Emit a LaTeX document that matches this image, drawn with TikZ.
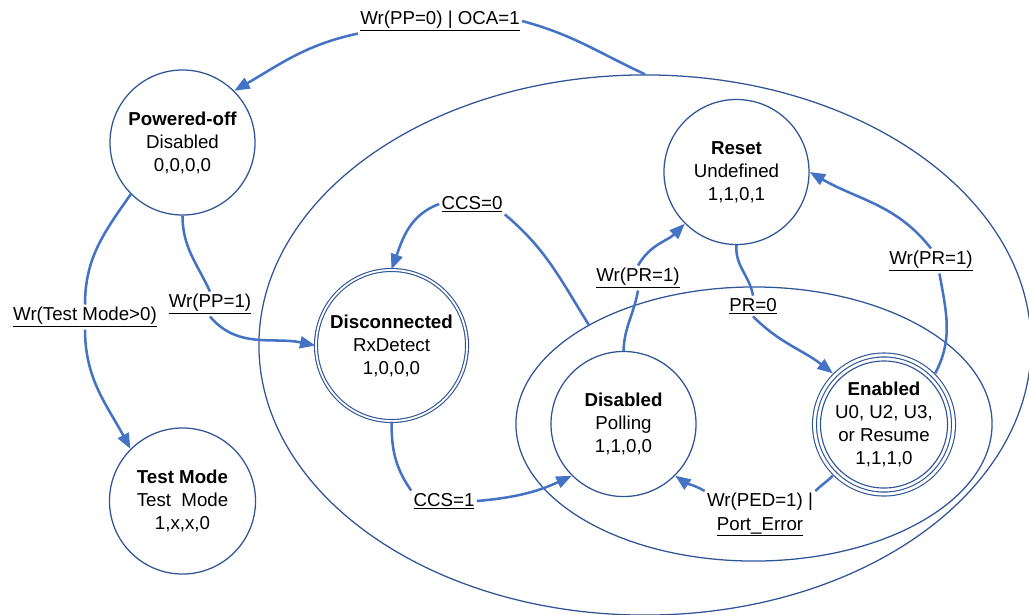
\documentclass[tikz,border=0pt]{standalone}
\usepackage{fontspec}
\setmainfont{Liberation Sans}
\usepackage{tikz}
\usetikzlibrary{arrows.meta,shapes.geometric,positioning}
\usepackage{xcolor}
\definecolor{BlueL}{RGB}{68, 114, 196}
\definecolor{BlueD}{RGB}{47,  85, 151}
\newcommand{\trig}[1]{\underline{#1}}

\begin{document}
\begin{tikzpicture}[x=0.025cm,y=-0.025cm,
    font=\fontsize{13.3pt}{16.4pt}\selectfont,
    state/.style={circle,draw=BlueD,line width=0.9pt,align=center,inner sep=0pt,minimum size=3.625cm},
    region/.style={ellipse,draw=BlueD,line width=0.9pt,inner sep=0pt},
    trans/.style={inner sep=1.5pt,align=center},
    edge/.style={BlueL,line width=1.8pt},
    tip/.style={edge,-{Triangle[length=11pt,width=8.5pt]}}]
  \useasboundingbox (0,0) rectangle (1029,614);
  \node[region,minimum width=19.3cm,minimum height=13.5cm] (outer) at (645,345) {};
  \node[region,minimum width=11.9cm,minimum height=6.85cm] (inner) at (754,424) {};
  \node[state] (poweroff) at (182.5,142.5) {\textbf{Powered-off}\\Disabled\\0,0,0,0};
  \node[state,minimum size=3.65cm] (testmode) at (182.5,501) {\textbf{Test Mode}\\Test\ \ Mode\\1,x,x,0};
  \node[state,double,double distance=1.3pt,line width=0.8pt,minimum size=3.775cm] (disconn) at (391.5,345.5) {\textbf{Disconnected}\\RxDetect\\1,0,0,0};
  \node[state] (reset) at (736.5,172) {\textbf{Reset}\\Undefined\\1,1,0,1};
  \node[state] (polling) at (623.5,424) {\textbf{Disabled}\\Polling\\1,1,0,0};
  \node[state,double,double distance=2pt,line width=0.8pt,outer sep=2pt,minimum size=3.475cm] (enabled) at (884,424.5) {\textbf{Enabled}\\U0, U2, U3,\\or Resume\\1,1,1,0};
  \draw[BlueD,line width=0.8pt] (enabled.center) circle (1.5875cm);
  % transition labels
  \node[trans] (l1) at (440,21) {\trig{Wr(PP=0) | OCA=1}};
  \node[trans] (l2) at (85,317) {\trig{Wr(Test Mode>0)}};
  \node[trans] (l3) at (210,304) {\trig{Wr(PP=1)}};
  \node[trans] (l4) at (444,501) {\trig{CCS=1}};
  \node[trans] (l5) at (472,204) {\trig{CCS=0}};
  \node[trans] (l6) at (638,278) {\trig{Wr(PR=1)}};
  \node[trans] (l7) at (753,306) {\trig{PR=0}};
  \node[trans] (l8) at (931,261) {\trig{Wr(PR=1)}};
  \node[trans] (l9) at (760,515) {Wr(PED=1) |\\\trig{Port\_Error}};
  % transitions
  \draw[edge] (outer.north) to[out=155,in=-15] (l1.east);
  \draw[tip] (l1.south west) to[out=192,in=30] (poweroff.45);
  \draw[edge] (poweroff.225) to[out=235,in=90] (l2.north);
  \draw[tip] (l2.south) to[out=-90,in=118] (testmode.135);
  \draw[edge] (poweroff.south) to[out=-90,in=115] (l3.north);
  \draw[tip] (l3.south) to[out=-50,in=168] (disconn.west);
  \draw[edge] (disconn.south) to[out=-90,in=125] (l4.north west);
  \draw[tip] (l4.east) to[out=5,in=205] (polling.225);
  \draw[edge] (inner.149) to[out=122,in=-40] (l5.south east);
  \draw[tip] (l5.west) to[out=200,in=70] (disconn.north);
  \draw[edge] (polling.north) to[out=88,in=-100] (l6.south);
  \draw[tip] (l6.north) to[out=60,in=225] (reset.225);
  \draw[edge] (reset.south) to[out=-95,in=100] (l7.north);
  \draw[tip] (l7.south) to[out=-45,in=142] (enabled.135);
  \draw[edge] (enabled.45) to[out=62,in=-80] ([xshift=6pt]l8.south);
  \draw[tip] (l8.north) to[out=128,in=-30] (reset.east);
  \draw[edge] (enabled.225) to[out=225,in=45] (l9.north east);
  \draw[tip] (l9.north west) to[out=150,in=-35] (polling.-45);
\end{tikzpicture}
\end{document}
